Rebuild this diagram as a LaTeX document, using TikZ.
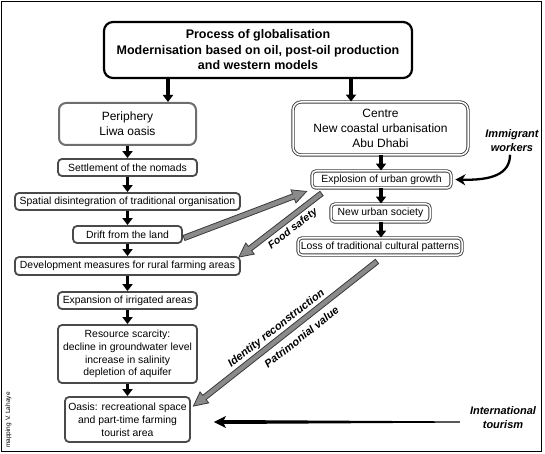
\documentclass[tikz,border=0pt]{standalone}
\usepackage{fontspec}
\setmainfont{Liberation Sans}
\usetikzlibrary{arrows.meta,calc}
\definecolor{boxgray}{HTML}{4A4A4A}
\definecolor{perigray}{HTML}{6E6E6E}
\definecolor{dblgray}{HTML}{3C3C3C}
\definecolor{arrfill}{HTML}{8A8A8A}
\definecolor{arredge}{HTML}{3A3A3A}
\tikzset{
 topbox/.style={draw=black, line width=2.2bp, rounded corners=9bp, align=center, inner sep=0pt, font=\fontsize{12.5bp}{15.5bp}\selectfont\bfseries},
 lbox/.style={draw=boxgray, line width=1.8bp, rounded corners=4bp, align=center, inner sep=0pt, font=\fontsize{10.4bp}{12.8bp}\selectfont},
 pbox/.style={draw=perigray, line width=2bp, rounded corners=7bp, align=center, inner sep=0pt, font=\fontsize{12bp}{15bp}\selectfont},
 rbox/.style={draw=dblgray, double=white, double distance=1.5bp, line width=0.9bp, rounded corners=4bp, align=center, inner sep=0pt, font=\fontsize{10.4bp}{12.8bp}\selectfont},
 cbox/.style={rbox, rounded corners=8bp, font=\fontsize{12bp}{15bp}\selectfont},
 blk/.style={line width=3.6bp, -{Triangle[length=7bp,width=10bp]}},
 lbl/.style={font=\fontsize{11bp}{14bp}\selectfont\bfseries\itshape, align=center, inner sep=0pt},
 garrow/.style={fill=arrfill, draw=arredge, line width=0.8bp, line join=miter},
}
\newcommand\grarrow[2]{%
 \coordinate (ga-c) at ($(#2)!14bp!(#1)$);
 \filldraw[garrow] ($(#1)!2.7bp!90:(#2)$) -- ($(ga-c)!2.7bp!-90:(#1)$) -- ($(ga-c)!7bp!-90:(#1)$) -- (#2) -- ($(ga-c)!7bp!90:(#1)$) -- ($(ga-c)!2.7bp!90:(#1)$) -- ($(#1)!2.7bp!-90:(#2)$) -- cycle;}
\begin{document}
\begin{tikzpicture}[x=1bp,y=-1bp]
\useasboundingbox (0,0) rectangle (545,454);
\draw[line width=1.5bp] (1.5,1.5) rectangle (541.5,451.5);
% boxes
\node[topbox, minimum width=308bp, minimum height=56bp] (top) at (258,50) {Process of globalisation\\Modernisation based on oil, post-oil production\\and western models};
\node[pbox, minimum width=137bp, minimum height=42bp] (peri) at (127.5,124) {Periphery\\Liwa oasis};
\node[cbox, minimum width=175bp, minimum height=53bp] (centre) at (380.5,128.5) {Centre\\New coastal urbanisation\\Abu Dhabi};
\node[lbox, minimum width=139bp, minimum height=17bp] (settle) at (127.5,167.5) {Settlement of the nomads};
\node[lbox, minimum width=225bp, minimum height=17bp] (spatial) at (127.5,201.5) {Spatial disintegration of traditional organisation};
\node[lbox, minimum width=109bp, minimum height=17bp] (drift) at (127.5,234.5) {Drift from the land};
\node[lbox, minimum width=225bp, minimum height=18bp] (devel) at (127.5,266) {Development measures for rural farming areas};
\node[lbox, minimum width=139bp, minimum height=17bp] (expan) at (127.5,300.5) {Expansion of irrigated areas};
\node[lbox, minimum width=139bp, minimum height=58bp] (res) at (127.5,354) {Resource scarcity:\\decline in groundwater level\\increase in salinity\\depletion of aquifer};
\node[lbox, minimum width=125bp, minimum height=45bp] (oasis) at (127.5,419.5) {Oasis: recreational space\\and part-time farming\\tourist area};
\node[rbox, minimum width=139bp, minimum height=17bp] (expl) at (381.5,179.5) {Explosion of urban growth};
\node[rbox, minimum width=99bp, minimum height=18bp] (newu) at (380.5,213) {New urban society};
\node[rbox, minimum width=164bp, minimum height=17bp] (loss) at (380,246.5) {Loss of traditional cultural patterns};
% labels
\node[lbl] (immig) at (512,140.5) {Immigrant\\workers};
\node[lbl] (tour) at (503,418) {International\\tourism};
\node[font=\fontsize{6.5bp}{7bp}\selectfont, rotate=90, inner sep=0pt] (credit) at (8.5,420) {mapping V. Lahaye};
\node[lbl, font=\fontsize{10.5bp}{12bp}\selectfont\bfseries\itshape, rotate=37.7] (food) at (293,229) {Food safety};
\node[lbl, rotate=38.2] (ident) at (276.5,328.5) {Identity reconstruction};
\node[lbl, rotate=38.2] (patri) at (301.5,337) {Patrimonial value};
% black arrows
\coordinate (a1) at (168,0);
\coordinate (a2) at (351,0);
\coordinate (a3) at (381,0);
\draw[blk] (top.south -| a1) -- (peri.north -| a1);
\draw[blk] (top.south -| a2) -- (centre.north -| a2);
\draw[blk] (peri.south) -- (settle.north);
\draw[blk] (settle.south) -- (spatial.north);
\draw[blk] (spatial.south) -- (drift.north);
\draw[blk] (drift.south) -- (devel.north);
\draw[blk] (devel.south) -- (expan.north);
\draw[blk] (expan.south) -- (res.north);
\draw[blk] (res.south) -- (oasis.north);
\draw[blk] (centre.south -| a3) -- (expl.north -| a3);
\draw[blk] (expl.south -| a3) -- (newu.north -| a3);
\draw[blk] (newu.south -| a3) -- (loss.north -| a3);
% grey arrows
\coordinate (g1s) at ($(drift.east)+(1,3.5)$);
\coordinate (g1e) at ($(expl.south west)+(-5,3)$);
\coordinate (g2s) at ($(expl.south west)+(10,5)$);
\coordinate (g2e) at ($(devel.north east)+(-2,1)$);
\coordinate (g3s) at ($(loss.south)+(-3,6)$);
\coordinate (g3e) at ($(oasis.north east)+(2.5,10)$);
\grarrow{g1s}{g1e}
\grarrow{g2s}{g2e}
\grarrow{g3s}{g3e}
% immigrant workers arrow
\coordinate (im1) at ($(immig.south)+(-2,3)$);
\coordinate (im2) at ($(expl.east)+(4,0)$);
\draw[line width=2.3bp, -{Stealth[length=10bp,width=11bp]}] (im1) .. controls ($(im1)+(0,20)$) and ($(im2)+(35,1)$) .. (im2);
% international tourism arrow
\coordinate (t1) at ($(tour.west)+(-10,4)$);
\coordinate (t2) at ($(oasis.east)+(23,2.5)$);
\fill ($(t1)+(0,-0.6)$) -- ($(t2)+(10,-2)$) -- ($(t2)+(12,-6)$) -- (t2) -- ($(t2)+(12,6)$) -- ($(t2)+(10,2)$) -- ($(t1)+(0,0.6)$) -- cycle;
\end{tikzpicture}
\end{document}
